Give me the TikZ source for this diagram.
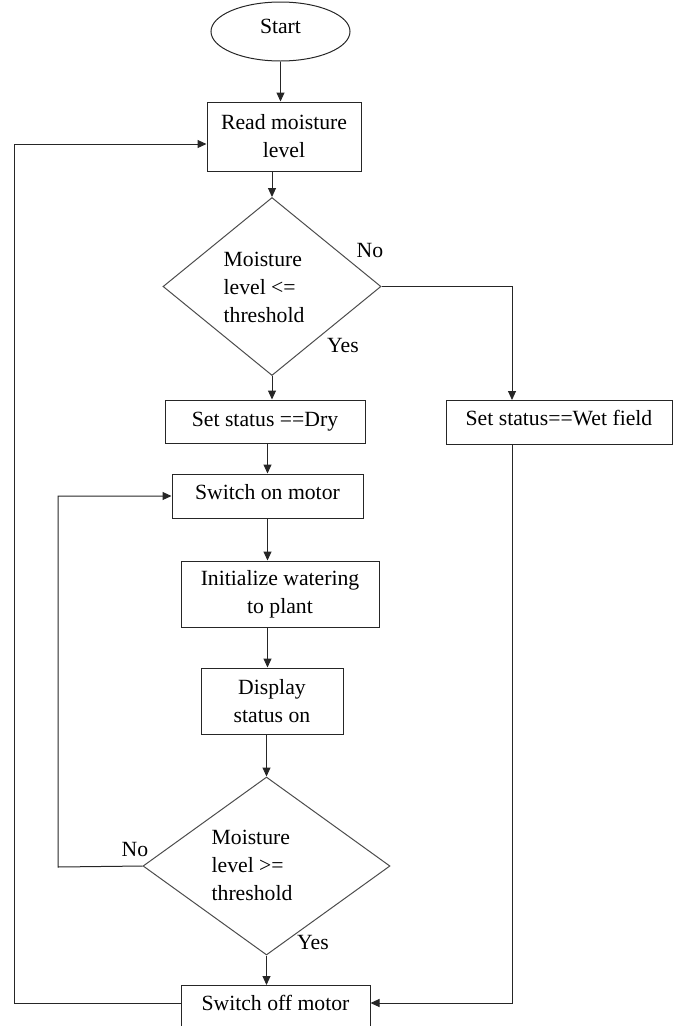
\documentclass[tikz,border=0pt]{standalone}
\usepackage{fontspec}
\setmainfont{Liberation Serif}
\usetikzlibrary{shapes.geometric,arrows.meta}
\begin{document}
\begin{tikzpicture}[x=1pt,y=-1pt,
  every node/.style={font=\fontsize{21.7}{28}\selectfont},
  line/.style={draw=black!85, line width=1pt},
  arr/.style={line, -{Triangle[length=9pt,width=8pt]}},
  procbox/.style={draw=black!85, line width=1pt, rectangle, inner sep=0pt, align=center},
  raised/.style={text height=15pt, text depth=8pt},
  decision/.style={draw=black!70, line width=1pt, diamond, inner sep=0pt},
  lbl/.style={inner sep=0pt}]
\useasboundingbox (0,0) rectangle (681,1026);
\clip (0,0) rectangle (681,1026);
% nodes
\node[draw=black!85, line width=1pt, ellipse, minimum width=139pt, minimum height=59pt, inner sep=0pt, text height=15pt, text depth=12pt] (start) at (280.5,31.5) {Start};
\node[procbox, minimum width=154pt, minimum height=69pt] (read) at (284,136.5) {Read moisture\\level};
\node[decision, minimum width=218pt, minimum height=178pt] (d1) at (272,286.5) {};
\node[lbl, align=left] (d1t) at (264,287) {Moisture\\level <=\\threshold};
\node[procbox, minimum width=200pt, minimum height=43pt] (dry) at (265,421.5) {Set status ==Dry};
\node[procbox, raised, minimum width=226pt, minimum height=44pt] (wet) at (559,422) {Set status==Wet field};
\node[procbox, raised, minimum width=191pt, minimum height=44pt] (on) at (267.5,496) {Switch on motor};
\node[procbox, minimum width=198pt, minimum height=66pt] (init) at (280,594) {Initialize watering\\to plant};
\node[procbox, minimum width=142pt, minimum height=66pt] (disp) at (272,701) {Display\\status on};
\node[decision, minimum width=247pt, minimum height=178pt] (d2) at (266.5,866) {};
\node[lbl, align=left] (d2t) at (252,865) {Moisture\\level >=\\threshold};
\node[procbox, minimum width=189pt, anchor=north, text height=25pt, text depth=20pt] (off) at (275.5,985) {Switch off motor};
% labels
\node[lbl] (no1) at (370,250) {No};
\node[lbl] (yes1) at (343,345) {Yes};
\node[lbl] (no2) at (135,849) {No};
\node[lbl] (yes2) at (313,942) {Yes};
% helper coordinates
\coordinate (wetin) at (512,400);
\coordinate (nol) at (58,867);
\coordinate (lb) at (14,1003);
\coordinate (lt) at (14,144);
\coordinate (rb) at (512,1003);
% connectors
\draw[arr] (start.south) -- (start.south |- read.north);
\draw[arr] (d1.north |- read.south) -- (d1.north);
\draw[arr] (d1.south) -- (d1.south |- dry.north);
\draw[arr] (d1.east) -| (wetin);
\draw[arr] (on.north |- dry.south) -- (on.north);
\draw[arr] (on.south) -- (on.south |- init.north);
\draw[arr] (init.south -| on.south) -- (disp.north -| on.south);
\draw[arr] (d2.north |- disp.south) -- (d2.north);
\draw[arr] (d2.south) -- (d2.south |- off.north);
\draw[arr] (d2.west) -- (nol) |- (on.west);
\draw[arr] (lb -| off.west) -- (lb) -- (lt) -- (lt -| read.west);
\draw[arr] (wet.south -| wetin) -- (rb) -- (rb -| off.east);
\end{tikzpicture}
\end{document}
